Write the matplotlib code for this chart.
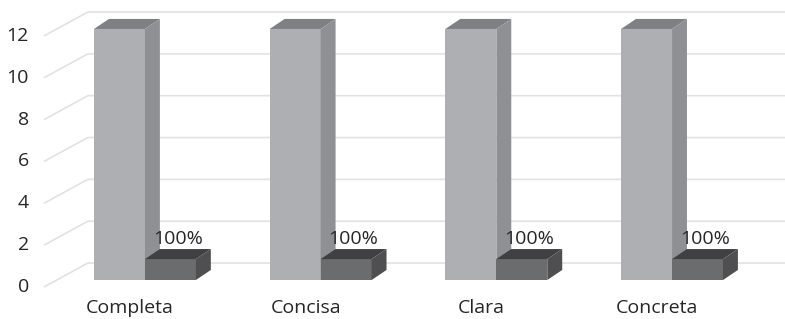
import matplotlib
matplotlib.use('Agg')
import matplotlib.pyplot as plt
from matplotlib.patches import Polygon

# ============================================================================
# DATA
# ============================================================================
categories = ['Completa', 'Concisa', 'Clara', 'Concreta']
tall_values = [12, 12, 12, 12]
short_values = [1, 1, 1, 1]
short_labels = ['100%', '100%', '100%', '100%']
y_ticks = [0, 2, 4, 6, 8, 10, 12]

# ============================================================================
# STYLE
# ============================================================================
plt.rcParams['font.family'] = ['Open Sans', 'DejaVu Sans']
text_color = '#262626'
grid_color = '#e2e2e2'
tall_colors = ('#aeafb2', '#7f8083', '#8f9093')   # front, top, side
short_colors = ('#6b6c6e', '#404042', '#4f4f51')

bar_w = 0.29
bar_dx, bar_dy = 0.085, 0.48      # depth of each bar
floor_front = -0.335              # floor front edge below bar front
floor_back = 0.81                 # back wall above bar front
grid_x_front, grid_x_back = -0.575, -0.325
x_min, x_max = -0.825, 3.643
y_min, y_max = -1.864, 13.385

fig = plt.figure(figsize=(7.85, 3.19), dpi=100)
ax = fig.add_axes([0, 0, 1, 1])
ax.set_xlim(x_min, x_max)
ax.set_ylim(y_min, y_max)
ax.axis('off')

# gridlines: diagonal on the floor side, then along the back wall
for v in y_ticks:
    ax.plot([grid_x_front, grid_x_back, x_max],
            [v + floor_front, v + floor_back, v + floor_back],
            color=grid_color, lw=1.2, zorder=1, solid_capstyle='butt')
    ax.text(grid_x_front - 0.085, v + floor_front, str(v), ha='right', va='center',
            fontsize=14, color=text_color)


def box(x0, height, colors):
    x1 = x0 + bar_w
    ax.bar(x0, height, width=bar_w, align='edge', color=colors[0], zorder=3)
    top = [(x0, height), (x0 + bar_dx, height + bar_dy),
           (x1 + bar_dx, height + bar_dy), (x1, height)]
    side = [(x1, 0), (x1, height), (x1 + bar_dx, height + bar_dy), (x1 + bar_dx, bar_dy)]
    ax.add_patch(Polygon(top, closed=True, facecolor=colors[1], edgecolor='none', zorder=3))
    ax.add_patch(Polygon(side, closed=True, facecolor=colors[2], edgecolor='none', zorder=3))


for i, cat in enumerate(categories):
    box(i - bar_w, tall_values[i], tall_colors)
    box(i, short_values[i], short_colors)
    ax.text(i + bar_w / 2 + bar_dx / 2, short_values[i] + bar_dy + 0.24, short_labels[i],
            ha='center', va='baseline', fontsize=14, color=text_color, zorder=4)
    ax.text(i - 0.085, -1.6, cat, ha='center', va='baseline',
            fontsize=14, color=text_color)

fig.savefig('out.png', dpi=100)
